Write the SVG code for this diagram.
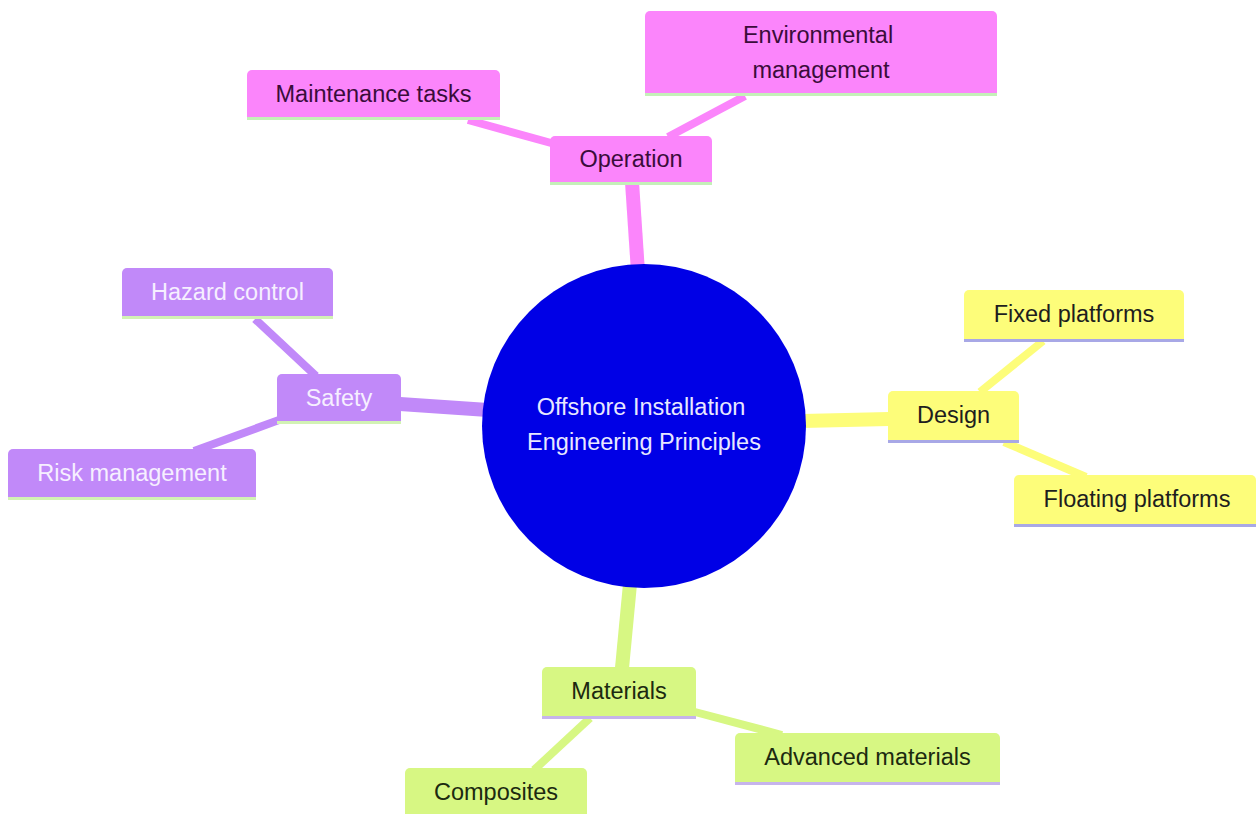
<svg xmlns="http://www.w3.org/2000/svg" width="1256" height="814" viewBox="0 0 1256 814">
<style>
text{font-family:"Liberation Sans",Arial,sans-serif;font-size:23.5px;text-anchor:middle;dominant-baseline:central}
.e1{fill:none;stroke-width:14;stroke-linecap:butt}
.e2{fill:none;stroke-width:8;stroke-linecap:butt}
.op{fill:#fb85fb}.opl{stroke:#c4f0b8;stroke-width:3}.opt{fill:#3a0c3a}
.sf{fill:#c189f9}.sfl{stroke:#d2f2b4;stroke-width:3}.sft{fill:#f6efff}
.ds{fill:#fdfd7a}.dsl{stroke:#a8a8e6;stroke-width:3}.dst{fill:#1e1e1e}
.mt{fill:#d7f783}.mtl{stroke:#c6b4ec;stroke-width:3}.mtt{fill:#1c2a10}
</style>
<rect width="1256" height="814" fill="#ffffff"/>
<g id="connectors">
<line class="e1" x1="638" y1="272" x2="632" y2="182" stroke="#fb85fb"/>
<line class="e2" x1="468" y1="120" x2="562" y2="146" stroke="#fb85fb"/>
<line class="e2" x1="745" y1="96" x2="668" y2="137" stroke="#fb85fb"/>
<line class="e1" x1="400" y1="404" x2="488" y2="410" stroke="#c189f9"/>
<line class="e2" x1="255" y1="319" x2="316" y2="376" stroke="#c189f9"/>
<line class="e2" x1="194" y1="451" x2="279" y2="420" stroke="#c189f9"/>
<line class="e1" x1="802" y1="421" x2="889" y2="419" stroke="#fdfd7a"/>
<line class="e2" x1="1043" y1="341" x2="980" y2="392" stroke="#fdfd7a"/>
<line class="e2" x1="1004" y1="442" x2="1086" y2="477" stroke="#fdfd7a"/>
<line class="e1" x1="630" y1="584" x2="622" y2="668" stroke="#d7f783"/>
<line class="e2" x1="590" y1="718" x2="534" y2="770" stroke="#d7f783"/>
<line class="e2" x1="695" y1="712" x2="782" y2="735" stroke="#d7f783"/>
</g>
<g id="root">
<circle cx="644" cy="426" r="162" fill="#0000e6"/>
<text x="641" y="407" fill="#e8e8ff">Offshore Installation</text>
<text x="644" y="442" fill="#e8e8ff">Engineering Principles</text>
</g>
<g id="operation">
<path class="op" d="M550 182V141a5 5 0 0 1 5-5h152a5 5 0 0 1 5 5V182Z"/>
<line class="opl" x1="550" y1="183.5" x2="712" y2="183.5"/>
<text class="opt" x="631" y="159">Operation</text>
</g>
<g id="maintenance">
<path class="op" d="M247 117V75a5 5 0 0 1 5-5h243a5 5 0 0 1 5 5V117Z"/>
<line class="opl" x1="247" y1="118.5" x2="500" y2="118.5"/>
<text class="opt" x="373.5" y="94">Maintenance tasks</text>
</g>
<g id="environmental">
<path class="op" d="M645 93V16a5 5 0 0 1 5-5h342a5 5 0 0 1 5 5V93Z"/>
<line class="opl" x1="645" y1="94.5" x2="997" y2="94.5"/>
<text class="opt" x="818" y="35">Environmental</text>
<text class="opt" x="821" y="70">management</text>
</g>
<g id="safety">
<path class="sf" d="M277 421V379a5 5 0 0 1 5-5h114a5 5 0 0 1 5 5V421Z"/>
<line class="sfl" x1="277" y1="422.5" x2="401" y2="422.5"/>
<text class="sft" x="339" y="398">Safety</text>
</g>
<g id="hazard">
<path class="sf" d="M122 316V273a5 5 0 0 1 5-5h201a5 5 0 0 1 5 5V316Z"/>
<line class="sfl" x1="122" y1="317.5" x2="333" y2="317.5"/>
<text class="sft" x="227.5" y="292">Hazard control</text>
</g>
<g id="risk">
<path class="sf" d="M8 497V454a5 5 0 0 1 5-5h238a5 5 0 0 1 5 5V497Z"/>
<line class="sfl" x1="8" y1="498.5" x2="256" y2="498.5"/>
<text class="sft" x="132" y="473">Risk management</text>
</g>
<g id="design">
<path class="ds" d="M888 440V396a5 5 0 0 1 5-5h121a5 5 0 0 1 5 5V440Z"/>
<line class="dsl" x1="888" y1="441.5" x2="1019" y2="441.5"/>
<text class="dst" x="953.5" y="415">Design</text>
</g>
<g id="fixed">
<path class="ds" d="M964 339V295a5 5 0 0 1 5-5h210a5 5 0 0 1 5 5V339Z"/>
<line class="dsl" x1="964" y1="340.5" x2="1184" y2="340.5"/>
<text class="dst" x="1074" y="314">Fixed platforms</text>
</g>
<g id="floating">
<path class="ds" d="M1014 524V480a5 5 0 0 1 5-5h232a5 5 0 0 1 5 5V524Z"/>
<line class="dsl" x1="1014" y1="525.5" x2="1256" y2="525.5"/>
<text class="dst" x="1137" y="499">Floating platforms</text>
</g>
<g id="materials">
<path class="mt" d="M542 716V672a5 5 0 0 1 5-5h144a5 5 0 0 1 5 5V716Z"/>
<line class="mtl" x1="542" y1="717.5" x2="696" y2="717.5"/>
<text class="mtt" x="619" y="691">Materials</text>
</g>
<g id="advanced">
<path class="mt" d="M735 782V738a5 5 0 0 1 5-5h255a5 5 0 0 1 5 5V782Z"/>
<line class="mtl" x1="735" y1="783.5" x2="1000" y2="783.5"/>
<text class="mtt" x="867.5" y="757">Advanced materials</text>
</g>
<g id="composites">
<path class="mt" d="M405 822V773a5 5 0 0 1 5-5h172a5 5 0 0 1 5 5V822Z"/>
<text class="mtt" x="496" y="792">Composites</text>
</g>
</svg>
